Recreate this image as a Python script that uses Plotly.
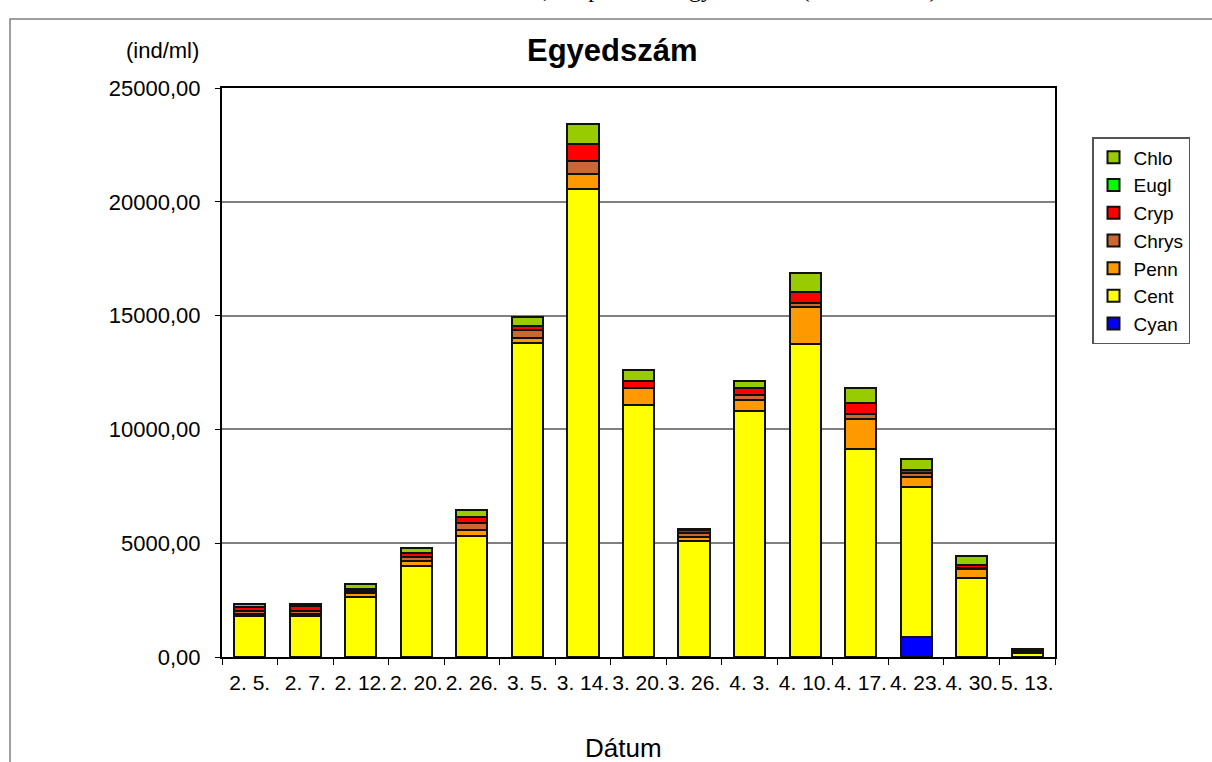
import plotly.graph_objects as go

categories = ["2. 5.", "2. 7.", "2. 12.", "2. 20.", "2. 26.", "3. 5.", "3. 14.", "3. 20.",
              "3. 26.", "4. 3.", "4. 10.", "4. 17.", "4. 23.", "4. 30.", "5. 13."]

cyan = [0, 0, 0, 0, 0, 0, 0, 0, 0, 0, 0, 0, 866, 0, 0]
cent = [1780, 1820, 2620, 4000, 5330, 13780, 20550, 11070, 5080, 10820, 13750, 9140, 6590, 3460, 180]
penn = [120, 60, 180, 200, 240, 220, 670, 730, 200, 470, 1640, 1300, 450, 410, 40]
chrys = [130, 150, 80, 200, 310, 350, 590, 30, 150, 220, 150, 230, 160, 60, 30]
cryp = [150, 200, 120, 150, 260, 180, 720, 290, 150, 320, 510, 470, 150, 110, 50]
eugl = [20, 0, 0, 0, 0, 0, 0, 0, 0, 0, 0, 0, 0, 0, 0]
chlo = [150, 120, 200, 220, 320, 420, 880, 470, 50, 290, 840, 690, 480, 400, 50]

series_names = ["Cyan", "Cent", "Penn", "Chrys", "Cryp", "Eugl", "Chlo"]
series_values = [cyan, cent, penn, chrys, cryp, eugl, chlo]
series_colors = ["#0000FF", "#FFFF00", "#FF9900", "#CC6633", "#FF0000", "#00FF00", "#99CC00"]

ytick_vals = [0, 5000, 10000, 15000, 20000, 25000]
ytick_text = ["0,00", "5000,00", "10000,00", "15000,00", "20000,00", "25000,00"]

FONT = "Liberation Sans, Arial, sans-serif"

fig = go.Figure()
for name, vals, col in zip(series_names, series_values, series_colors):
    fig.add_trace(go.Bar(
        x=categories, y=vals, name=name,
        marker=dict(color=col, line=dict(color="#111111", width=2)),
    ))

# plot area: x 222..1055, y 88..657
L, R, T, B = 222, 1055, 88, 657
W, H = 1212, 762
pw, ph = R - L, B - T


def px(x):
    return (x - L) / pw


def py(y):
    return (B - y) / ph


fig.update_layout(
    width=W, height=H,
    margin=dict(l=L, r=W - R, t=T, b=H - B, autoexpand=False),
    paper_bgcolor="white", plot_bgcolor="white",
    barmode="stack", bargap=0.44,
    font=dict(family=FONT, size=21, color="black"),
    showlegend=True,
    legend=dict(
        traceorder="reversed",
        x=px(1092), y=py(137), xanchor="left", yanchor="top",
        bordercolor="#555555", borderwidth=1.5, bgcolor="white",
        font=dict(family=FONT, size=19, color="black"),
        itemwidth=30, tracegroupgap=0,
    ),
    xaxis=dict(
        type="category", showline=True, linecolor="black", linewidth=2,
        mirror=True, ticks="outside", tickson="boundaries", ticklen=6,
        tickcolor="black", tickwidth=1, showgrid=False, tickangle=0,
        tickfont=dict(family=FONT, size=21, color="black"),
        ticklabelstandoff=6,
    ),
    yaxis=dict(
        range=[0, 25000], tickvals=ytick_vals, ticktext=ytick_text,
        showline=True, linecolor="black", linewidth=2, mirror=True,
        ticks="outside", ticklen=5, tickcolor="black",
        showgrid=True, gridcolor="#808080", gridwidth=1.5,
        tickfont=dict(family=FONT, size=22, color="black"),
        ticklabelstandoff=10, zeroline=False,
    ),
    annotations=[
        dict(text="<b>Egyedszám</b>", x=px(612), y=py(50), xref="paper", yref="paper",
             showarrow=False, xanchor="center", yanchor="middle",
             font=dict(family=FONT, size=31, color="black")),
        dict(text="(ind/ml)", x=px(162), y=py(50), xref="paper", yref="paper",
             showarrow=False, xanchor="center", yanchor="middle",
             font=dict(family=FONT, size=22, color="black")),
        dict(text="Dátum", x=px(623), y=py(748), xref="paper", yref="paper",
             showarrow=False, xanchor="center", yanchor="middle",
             font=dict(family=FONT, size=26, color="black")),
        dict(text="Kis-Balaton, fitoplankton egyedszáma (2004. tavasz)", x=px(425), y=py(-11),
             xref="paper", yref="paper",
             showarrow=False, xanchor="left", yanchor="middle",
             font=dict(family="Liberation Serif, Times New Roman, serif", size=24, color="black")),
    ],
    shapes=[
        dict(type="rect", xref="paper", yref="paper",
             x0=px(10), x1=px(1220), y0=py(775), y1=py(19),
             line=dict(color="#808080", width=1.5), fillcolor="rgba(0,0,0,0)", layer="below"),
    ],
)

fig.write_html("out.html")
